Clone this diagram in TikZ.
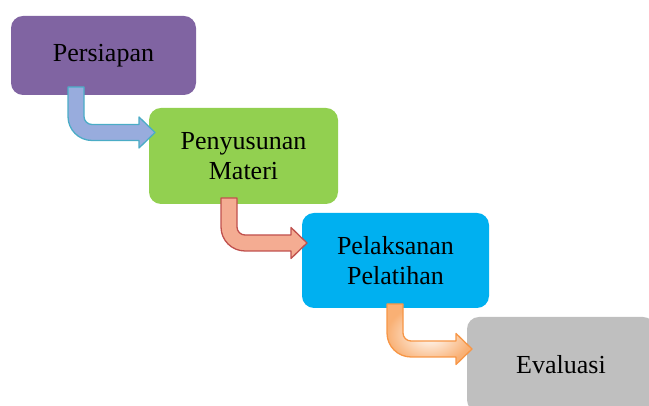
\documentclass[tikz,border=0pt]{standalone}
\usepackage{fontspec}
\setmainfont{Liberation Serif}
\begin{document}
\begin{tikzpicture}[x=1pt,y=1pt,
  stagebox/.style={rounded corners=12pt, inner sep=0pt, align=center,
    font=\fontsize{26}{30}\selectfont, text=black},
  arrowone/.style={fill=arrfillA, draw=arrlineA, line width=1.3pt, line join=round},
  arrowtwo/.style={fill=arrfillB, draw=arrlineB, line width=1.3pt, line join=round},
  arrowthree/.style={draw=arrlineC, line width=1.3pt, line join=round,
    inner color=white, outer color=arrlineC!75}]
\definecolor{purplebox}{HTML}{8064A2}
\definecolor{greenbox}{HTML}{92D050}
\definecolor{bluebox}{HTML}{00B0F0}
\definecolor{graybox}{HTML}{BFBFBF}
\definecolor{arrfillA}{HTML}{98ACDD}
\definecolor{arrlineA}{HTML}{4BACC6}
\definecolor{arrfillB}{HTML}{F4AC92}
\definecolor{arrlineB}{HTML}{C0504D}
\definecolor{arrlineC}{HTML}{F79646}
\newcommand\blockarrowpath[4]{(#1,#2) -- (#1+16,#2) -- (#1+16,#3+16)
  arc[start angle=180,end angle=270,radius=8] -- (#4-16,#3+8) -- (#4-16,#3+15.5)
  -- (#4,#3) -- (#4-16,#3-15.5) -- (#4-16,#3-8) -- (#1+24,#3-8)
  arc[start angle=270,end angle=180,radius=24] -- cycle}
\useasboundingbox (0,0) rectangle (649,406);
\clip (0,0) rectangle (649,406);
\node[stagebox, fill=purplebox, minimum width=185pt, minimum height=79pt] (b1) at (103.5,350.5) {Persiapan};
\node[stagebox, fill=greenbox, minimum width=189pt, minimum height=96pt] (b2) at (243.5,250) {Penyusunan\\Materi};
\node[stagebox, fill=bluebox, minimum width=187pt, minimum height=95pt] (b3) at (395.5,145.5) {Pelaksanan\\Pelatihan};
\node[stagebox, fill=graybox, minimum width=188pt, minimum height=95pt] (b4) at (561,41.5) {Evaluasi};
\path[arrowone] \blockarrowpath{68}{319}{273.5}{155};
\path[arrowtwo] \blockarrowpath{221}{208}{163}{307};
\path[arrowthree] \blockarrowpath{387}{102}{57}{472};
\end{tikzpicture}
\end{document}
